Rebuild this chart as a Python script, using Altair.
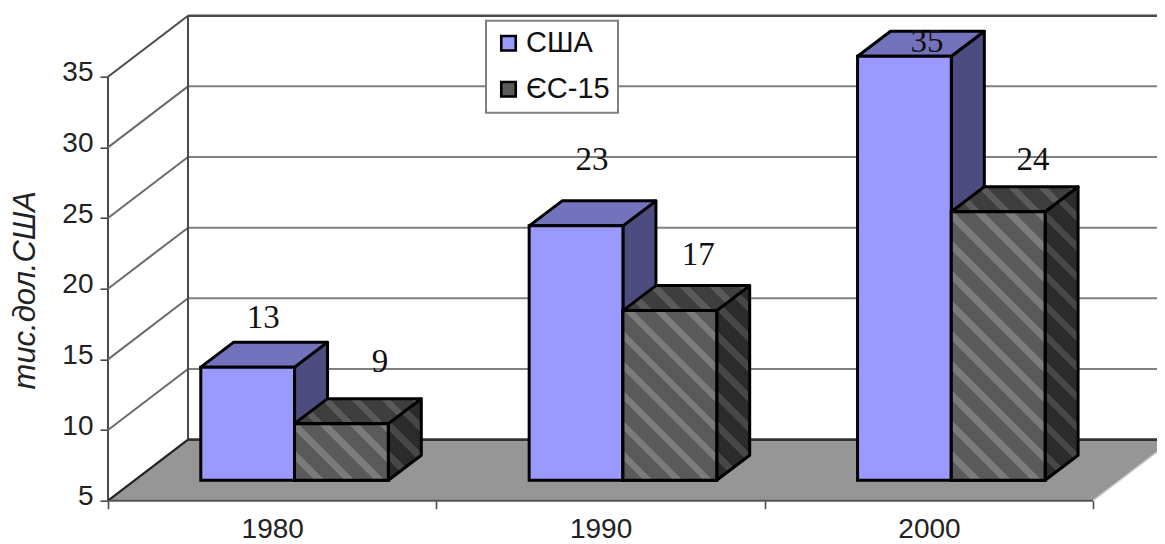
import altair as alt
import pandas as pd

# ---- data
YEARS = ["1980", "1990", "2000"]
SERIES = ["США", "ЄС-15"]
US_VALUES = [13, 23, 35]
EU_VALUES = [9, 17, 24]
Y_TICKS = [5, 10, 15, 20, 25, 30, 35]
X_TICKS = [0, 0.5, 1, 1.5, 2, 2.5, 3]

# ---- look of the fake 3-D box (in scale units)
X_MAX, Y_MIN, Y_MAX = 3.1943, 5, 39.32
WALL_DX, WALL_DY = 0.2436, 4.32      # depth of the whole box
BAR_DX, BAR_DY = 0.1005, 1.77        # depth of one bar
PLANE_DY = 1.45                      # lift of the bars above the front edge
BAR_W, BAR_X0 = 0.2855, 0.2825
PX_X, PX_Y = 328.4, 14.13            # pixels per scale unit
US_LABEL = [(0.4726, 4.93), (1.474, 6.11), (2.494, 2.46)]
EU_LABEL = [(0.828, 5.82), (1.797, 5.39), (2.817, 5.11)]

BLUE, BLUE_TOP, BLUE_SIDE = "#9999ff", "#7272bd", "#4c4c80"
HATCH_FRONT = ("#5a5a5a", "#7b7b7b")
HATCH_TOP = ("#3e3e3e", "#5a5a5a")
HATCH_SIDE = ("#2b2b2b", "#474747")
FLOOR = "#969696"
GRID = "#808080"
OBLIQUE = "#6a6a6a"
AXIS = "#4a4a4a"
STROKE = 3
PERIOD = 30.0

xs = alt.Scale(domain=[0, X_MAX], nice=False, zero=False)
ys = alt.Scale(domain=[Y_MIN, Y_MAX], nice=False, zero=False)

y_axis = alt.Axis(values=Y_TICKS, domain=False, grid=False, ticks=True, tickSize=8, tickColor=AXIS, tickWidth=1.6,
                  labelFont="Liberation Sans", labelFontSize=28, labelColor="#222222", labelPadding=7, labelOffset=-4,
                  title="тис.дол.США", titleFont="Liberation Sans", titleFontStyle="italic", titleFontWeight="normal",
                  titleFontSize=31, titleColor="#222222", titleX=-67, titleY=274, titleAngle=270)
x_axis = alt.Axis(values=X_TICKS, domain=False, grid=False, tickSize=8, tickColor=AXIS, tickWidth=1.6, title=None,
                  tickOpacity={"condition": {"test": "datum.value % 1 != 0", "value": 0}, "value": 1},
                  labelFont="Liberation Sans", labelFontSize=28, labelColor="#222222", labelPadding=7,
                  labelFlush=False, labelOverlap=False, labelBound=False,
                  labelExpr="datum.value % 1 != 0 ? " + str(YEARS) + "[floor(datum.value)] : ''")


def X():
    return alt.X("x:Q", scale=xs, axis=x_axis)


def Y():
    return alt.Y("y:Q", scale=ys, axis=y_axis)


def hatch(W, H, colors):
    k = (1 / H + 1 / W) / (1 / H ** 2 + 1 / W ** 2)
    n = int((W + H) / PERIOD) + 1
    step = 1.0 / ((W + H) / PERIOD)
    stops = []
    for i in range(n):
        a, b, c = i * step, (i + 0.68) * step, (i + 1) * step
        stops += [
            {"offset": min(a, 1), "color": colors[0]},
            {"offset": min(b, 1), "color": colors[0]},
            {"offset": min(b, 1), "color": colors[1]},
            {"offset": min(c, 1), "color": colors[1]},
        ]
    return {"gradient": "linear", "x1": 0, "y1": 1, "x2": k / H, "y2": 1 - k / W, "stops": stops}


def rules(rows, color, width, **kw):
    return alt.Chart(pd.DataFrame(rows)).mark_rule(color=color, strokeWidth=width, **kw).encode(
        x=X(), x2="x2:Q", y=Y(), y2="y2:Q"
    )


def side_face(x0, bottom, top, fill):
    df = pd.DataFrame({"x": [x0, x0 + BAR_DX],
                       "y": [bottom, bottom + BAR_DY],
                       "y2": [top, top + BAR_DY]})
    return alt.Chart(df).mark_area(fill=fill, stroke="black", strokeWidth=STROKE, strokeJoin="round",
                                   orient="vertical").encode(x=X(), y=Y(), y2="y2:Q")


def top_face(x0, top, fill):
    df = pd.DataFrame({"y": [top, top + BAR_DY],
                       "x": [x0, x0 + BAR_DX],
                       "x2": [x0 + BAR_W, x0 + BAR_W + BAR_DX]})
    return alt.Chart(df).mark_area(fill=fill, stroke="black", strokeWidth=STROKE, strokeJoin="round",
                                   orient="horizontal").encode(y=Y(), x=X(), x2="x2:Q")


color_enc = alt.Color(
    "series:N",
    scale=alt.Scale(domain=SERIES, range=[BLUE, HATCH_FRONT[0]]),
    sort=SERIES,
    legend=alt.Legend(
        orient="none", legendX=378, legendY=5, title=None, symbolType="square",
        symbolSize=210, symbolStrokeColor="black", symbolStrokeWidth=2.6,
        labelFont="Liberation Sans", labelFontSize=29, labelColor="#111111", labelLimit=200,
        labelOffset=3, rowPadding=16, padding=8,
        fillColor="white", strokeColor="#808080",
    ),
)


def front_face(x0, bottom, top, name):
    df = pd.DataFrame({"x": [x0], "x2": [x0 + BAR_W], "y": [bottom], "y2": [top], "series": [name]})
    return alt.Chart(df).mark_rect(stroke="black", strokeWidth=STROKE).encode(
        x=X(), x2="x2:Q", y=Y(), y2="y2:Q", color=color_enc
    )


layers = []

# front vertical line
layers.append(rules([{"x": 0, "x2": 0, "y": Y_TICKS[0], "y2": Y_TICKS[-1]}], AXIS, 2))

# wall lines (oblique on side wall, horizontal on back wall)
layers.append(rules([{"x": 0, "x2": WALL_DX, "y": v, "y2": v + WALL_DY} for v in Y_TICKS[1:-1]], OBLIQUE, 2))
layers.append(rules([{"x": 0, "x2": WALL_DX, "y": Y_TICKS[-1], "y2": Y_TICKS[-1] + WALL_DY}], AXIS, 2))
layers.append(rules([{"x": WALL_DX, "x2": X_MAX, "y": v + WALL_DY, "y2": v + WALL_DY} for v in Y_TICKS[1:-1]], GRID, 2))
layers.append(rules([{"x": WALL_DX, "x2": X_MAX, "y": Y_TICKS[-1] + WALL_DY, "y2": Y_TICKS[-1] + WALL_DY}], AXIS, 2.4))
layers.append(rules([{"x": WALL_DX, "x2": WALL_DX, "y": Y_TICKS[0] + WALL_DY, "y2": Y_TICKS[-1] + WALL_DY}], AXIS, 2))

# floor
floor_df = pd.DataFrame({"y": [Y_MIN, Y_MIN + WALL_DY], "x": [0, WALL_DX], "x2": [3, 3 + WALL_DX]})
layers.append(alt.Chart(floor_df).mark_area(fill=FLOOR, orient="horizontal", clip=True).encode(y=Y(), x=X(), x2="x2:Q"))
layers.append(rules([{"x": 0, "x2": WALL_DX, "y": Y_MIN, "y2": Y_MIN + WALL_DY}], "#222222", 2.2))
layers.append(rules([{"x": 0, "x2": 3, "y": Y_MIN, "y2": Y_MIN}], "#555555", 2))
layers.append(rules([{"x": WALL_DX, "x2": X_MAX, "y": Y_MIN + WALL_DY, "y2": Y_MIN + WALL_DY}], "#333333", 2.6))
layers.append(rules([{"x": 3, "x2": X_MAX, "y": Y_MIN, "y2": Y_MIN + (X_MAX - 3) / WALL_DX * WALL_DY}], "#d0d0d0", 1.5))

# bars
bottom = Y_MIN + PLANE_DY
for i in range(len(YEARS)):
    xu = i + BAR_X0
    xe = xu + BAR_W
    tu = US_VALUES[i] + PLANE_DY
    te = EU_VALUES[i] + PLANE_DY
    layers.append(side_face(xu + BAR_W, bottom, tu, BLUE_SIDE))
    layers.append(top_face(xu, tu, BLUE_TOP))
    layers.append(front_face(xu, bottom, tu, SERIES[0]))

    W_f, H_f = BAR_W * PX_X, (te - bottom) * PX_Y
    W_d, H_d = BAR_DX * PX_X, BAR_DY * PX_Y
    layers.append(side_face(xe + BAR_W, bottom, te, hatch(W_d, H_f + H_d, HATCH_SIDE)))
    layers.append(top_face(xe, te, hatch(W_f + W_d, H_d, HATCH_TOP)))
    layers.append(front_face(xe, bottom, te, SERIES[1]))
    hatched = pd.DataFrame({"x": [xe], "x2": [xe + BAR_W], "y": [bottom], "y2": [te]})
    layers.append(
        alt.Chart(hatched).mark_rect(fill=hatch(W_f, H_f, HATCH_FRONT), stroke="black", strokeWidth=STROKE)
        .encode(x=X(), x2="x2:Q", y=Y(), y2="y2:Q")
    )

# value labels
label_rows = []
for vals, offs in ((US_VALUES, US_LABEL), (EU_VALUES, EU_LABEL)):
    for v, (lx, lift) in zip(vals, offs):
        label_rows.append({"x": lx, "y": v + lift, "label": str(v)})
layers.append(
    alt.Chart(pd.DataFrame(label_rows))
    .mark_text(font="Liberation Serif", fontSize=33, color="#111111", align="center", baseline="middle")
    .encode(x=X(), y=Y(), text="label:N")
)

chart = (
    alt.layer(*layers)
    .properties(
        width=1049, height=485,
        padding={"left": 100, "top": 7.7, "right": 0, "bottom": 43},
        autosize=alt.AutoSizeParams(type="none"),
        background="white",
    )
    .configure_view(stroke=None)
    .configure_legend(strokeWidth=2)
)
chart.save("out.html", embed_options={"renderer": "svg", "actions": False})
